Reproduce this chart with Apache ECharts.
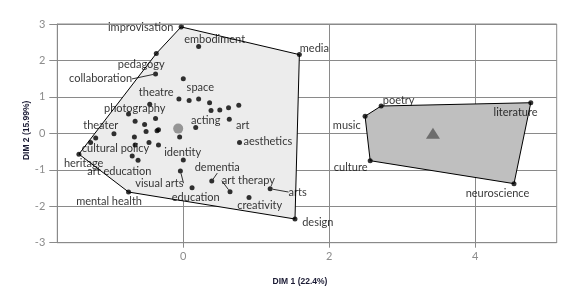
<!DOCTYPE html>
<html><head><meta charset="utf-8">
<script src="https://cdn.jsdelivr.net/npm/echarts@6/dist/echarts.min.js"></script>
<style>html,body{margin:0;padding:0;background:#fff}#c{width:567px;height:291px}</style>
</head><body><div id="c"></div>
<script>
// ---- data ----
const cluster1Names = ['improvisation','embodiment','media','pedagogy','collaboration','space','theatre','','','','','','','','photography','','','','','acting','art','theater','','','','','','','','','','','heritage','cultural policy','art education','identity','aesthetics','visual arts','dementia','education','art therapy','arts','creativity','design','mental health'];
const cluster1X = [-0.03,0.21,1.59,-0.37,-0.38,0.00,-0.06,0.08,0.21,0.36,0.38,0.50,0.62,0.76,-0.46,-0.75,-0.66,-0.53,-0.38,0.17,0.63,-1.20,-1.27,-0.95,-0.67,-0.51,-0.36,-0.34,-0.05,-0.66,-0.47,-0.34,-1.43,-0.70,-0.62,0.00,0.77,-0.04,0.39,0.12,0.64,1.19,0.90,1.53,-0.75];
const cluster1Y = [2.92,2.38,2.16,2.19,1.63,1.50,0.94,0.90,0.94,0.84,0.63,0.64,0.70,0.77,0.80,0.53,0.33,0.24,0.41,0.16,0.39,-0.13,-0.25,-0.01,-0.10,0.05,0.07,0.10,-0.10,-0.32,-0.25,-0.32,-0.57,-0.62,-0.74,-0.73,-0.25,-1.03,-1.31,-1.49,-1.60,-1.52,-1.76,-2.35,-1.61];
const cluster2Names = ['poetry','music','literature','culture','neuroscience'];
const cluster2X = [2.71,2.49,4.76,2.56,4.53];
const cluster2Y = [0.75,0.47,0.84,-0.75,-1.38];
const centroid1 = [-0.07, 0.13];
const centroid2 = [3.42, 0.00];
const xTicks = [0, 2, 4];
const yTicks = [-3, -2, -1, 0, 1, 2, 3];
const xName = 'DIM 1 (22.4%)';
const yName = 'DIM 2 (15.99%)';

// ---- label placement (style) ----
const labelOffsets = {
  'improvisation':[-40.5,1],'embodiment':[16,-7],'media':[15,-6],'pedagogy':[-15,11],
  'collaboration':[-55,5],'space':[17,9],'theatre':[-22.7,-7],'photography':[-15,4.7],
  'acting':[10,-7],'art':[13.5,6.7],'theater':[5,-13],'cultural policy':[-16.7,-7],
  'heritage':[4.7,9.7],'art education':[-18.7,10.7],'identity':[-0.6,-7.3],'aesthetics':[28.3,-1],
  'visual arts':[-21,12.3],'dementia':[5.5,-13.5],'education':[3.7,10],'art therapy':[18.3,-11],
  'arts':[27.5,3.3],'creativity':[10.7,8.3],'design':[22.8,3.4],'mental health':[-19.5,9.4],
  'poetry':[17.5,-6],'music':[-18.3,9.4],'literature':[-15.2,9.3],'culture':[-19.5,6.6],'neuroscience':[-16.5,10.3]
};
const leaders = ['collaboration','visual arts','dementia','art therapy','arts'];

const FONT = 'Lato';
function points(names, xs, ys) {
  return names.map((n, i) => {
    const off = labelOffsets[n] || [0, 0];
    return {
      name: n, value: [xs[i], ys[i]],
      label: {show: !!n, position: 'inside', offset: off, align: 'center', verticalAlign: 'middle'},
      labelLine: {show: leaders.indexOf(n) >= 0, lineStyle: {color: '#000', width: 0.8}}
    };
  });
}
function hull(xs, ys) {
  const p = xs.map((x, i) => [x, ys[i]]).sort((a, b) => a[0] - b[0] || a[1] - b[1]);
  const cross = (o, a, b) => (a[0]-o[0])*(b[1]-o[1]) - (a[1]-o[1])*(b[0]-o[0]);
  const lower = [], upper = [];
  for (const q of p) { while (lower.length >= 2 && cross(lower[lower.length-2], lower[lower.length-1], q) <= 0) lower.pop(); lower.push(q); }
  for (let i = p.length - 1; i >= 0; i--) { const q = p[i]; while (upper.length >= 2 && cross(upper[upper.length-2], upper[upper.length-1], q) <= 0) upper.pop(); upper.push(q); }
  upper.pop(); lower.pop();
  return lower.concat(upper);
}
function hullSeries(xs, ys, fill) {
  const h = hull(xs, ys);
  return {
    type: 'custom', coordinateSystem: 'cartesian2d', silent: true, z: 1, animation: false,
    data: [[xs[0], ys[0]]],
    renderItem: (params, api) => ({
      type: 'polygon',
      shape: {points: h.map(q => api.coord(q))},
      style: {fill: fill, stroke: '#000', lineWidth: 1}
    })
  };
}
const labelStyle = {fontFamily: FONT, fontSize: 11, color: '#000'};
const chart = echarts.init(document.getElementById('c'), null, {renderer: 'canvas'});
chart.setOption({
  animation: false,
  grid: {left: 57.3, right: 10.3, top: 24, bottom: 48.3, show: true, borderColor: '#8a8a8a', borderWidth: 1, backgroundColor: 'transparent'},
  xAxis: {
    type: 'value', min: -1.726, max: 5.115,
    name: xName, nameLocation: 'middle', nameGap: 34, nameMoveOverlap: false,
    nameTextStyle: {fontFamily: 'Liberation Sans', fontWeight: 'bold', fontSize: 8.5, color: '#1a1a33', padding: [0, 14, 0, 0]},
    axisLine: {show: true, onZero: false, lineStyle: {color: '#8a8a8a'}},
    axisTick: {show: true, length: 5, customValues: xTicks, lineStyle: {color: '#8a8a8a'}},
    axisLabel: {customValues: xTicks, margin: 8, fontFamily: FONT, fontSize: 11, color: '#8c8c8c'},
    splitLine: {show: true, lineStyle: {color: '#8a8a8a'}}
  },
  yAxis: {
    type: 'value', min: -3, max: 3, interval: 1,
    name: yName, nameLocation: 'middle', nameGap: 26, nameRotate: 90, nameMoveOverlap: false,
    nameTextStyle: {fontFamily: 'Liberation Sans', fontWeight: 'bold', fontSize: 8.5, color: '#1a1a33', padding: [0, 0, 0, 6]},
    axisLine: {show: true, onZero: false, lineStyle: {color: '#8a8a8a'}},
    axisTick: {show: true, length: 8, lineStyle: {color: '#8a8a8a'}},
    axisLabel: {margin: 12, fontFamily: FONT, fontSize: 11, color: '#8c8c8c'},
    splitLine: {show: true, lineStyle: {color: '#8a8a8a'}}
  },
  series: [
    hullSeries(cluster1X, cluster1Y, '#ececec'),
    hullSeries(cluster2X, cluster2Y, '#bfbfbf'),
    {type: 'scatter', z: 3, symbol: 'circle', symbolSize: 5, itemStyle: {color: '#000'},
     label: Object.assign({formatter: '{b}'}, labelStyle),
     data: points(cluster1Names, cluster1X, cluster1Y)},
    {type: 'scatter', z: 3, symbol: 'circle', symbolSize: 5, itemStyle: {color: '#000'},
     label: Object.assign({formatter: '{b}'}, labelStyle),
     data: points(cluster2Names, cluster2X, cluster2Y)},
    {type: 'scatter', z: 4, symbol: 'circle', symbolSize: 10, itemStyle: {color: '#808080'}, data: [centroid1]},
    {type: 'scatter', z: 4, symbol: 'triangle', symbolSize: [14, 11], itemStyle: {color: '#595959'}, data: [centroid2]}
  ]
});
</script></body></html>
